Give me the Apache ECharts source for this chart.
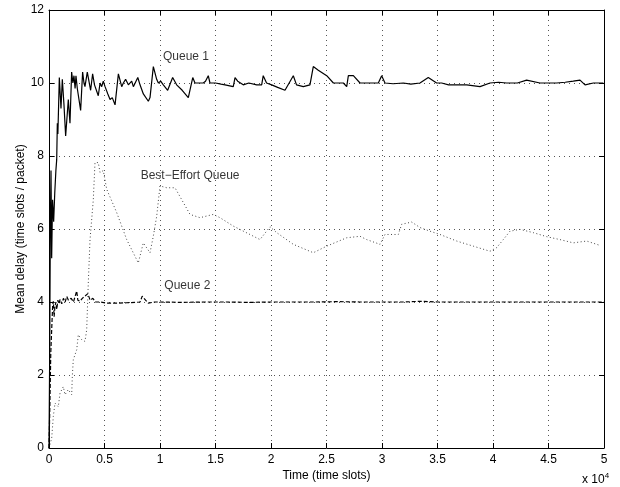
<!DOCTYPE html>
<html>
<head>
<meta charset="utf-8">
<script src="https://cdn.jsdelivr.net/npm/echarts@6/dist/echarts.min.js"></script>
<style>
  html, body { margin: 0; padding: 0; background: #fff; }
  #chart { width: 620px; height: 487px; }
</style>
</head>
<body>
<div id="chart"></div>
<script>
// Mean delay per queue over simulated time (time in slots, value in slots/packet)
const queue1 = [
  [0,0],[60,2.5],[120,6],[180,7.6],[240,5.2],[320,6.8],[420,6.2],[520,7.0],[620,7.6],[694,7.9],
  [750,8.9],[800,8.6],[850,9.2],[930,10.15],[1080,9.3],[1200,10.1],[1350,9.4],[1500,8.55],[1740,9.55],
  [1890,8.9],[2040,10.3],[2150,10.0],[2250,10.2],[2350,9.85],[2430,10.2],[2550,9.85],[2850,9.25],
  [3030,10.3],[3150,10.0],[3240,9.9],[3450,10.3],[3750,9.8],[3930,10.25],[4100,9.95],[4440,9.65],
  [4600,10.0],[4750,9.9],[4890,10.05],[5050,9.9],[5300,9.7],[5500,9.55],[5700,9.6],[5950,9.4],
  [6250,10.25],[6550,9.9],[6700,10.0],[6900,10.1],[7150,9.95],[7450,10.05],[7600,9.9],[8000,10.15],
  [8200,9.95],[8500,9.7],[8950,9.5],[9100,9.6],[9250,9.55],[9400,10.45],[9700,10.1],[9850,10.0],
  [10060,10.05],[10300,9.95],[10690,9.8],[11140,10.15],[11500,9.95],[12000,9.8],[12550,9.6],
  [12950,10.15],[13150,10.0],[13900,10.0],[14100,10.05],[14350,10.2],[14500,10.0],[15000,10.0],
  [15500,9.97],[15860,9.95],[16600,9.9],[16760,10.15],[17000,10.05],[17500,9.95],[18000,10.0],
  [18710,9.95],[19160,9.95],[19300,10.2],[19600,10.0],[20060,9.95],[20600,9.88],[21260,9.8],
  [22010,10.2],[22300,9.95],[22910,9.9],[23510,9.95],[23810,10.45],[24260,10.35],[25020,10.2],
  [25620,10.0],[26520,10.0],[26820,9.9],[26970,10.2],[27420,10.2],[28020,10.0],[28920,10.0],
  [29670,10.0],[29970,10.2],[30270,10.0],[31000,9.98],[31920,10.0],[32600,9.97],[33420,10.0],
  [34170,10.15],[34920,10.0],[35370,10.0],[36000,9.95],[36580,9.95],[37630,9.95],[38830,9.9],
  [39730,10.0],[40500,10.02],[41230,10.0],[42200,10.0],[43030,10.08],[44230,10.0],[45730,10.0],
  [46500,10.02],[47230,10.05],[47840,10.08],[48290,9.95],[49040,10.0],[49940,10.0],[50000,10.0]
];

const queue2 = [
  [0,0],[80,1.2],[160,2.6],[250,3.3],[330,3.9],[390,4.02],[460,3.6],[540,3.88],[620,4.0],[700,3.8],
  [800,4.05],[900,3.95],[1000,4.07],[1150,3.95],[1300,4.1],[1450,4.0],[1600,4.15],[1750,4.05],
  [2000,4.1],[2200,4.0],[2495,4.3],[2600,4.05],[2800,4.02],[3000,4.1],[3500,4.23],[3700,4.05],
  [3950,4.1],[4200,4.0],[4600,4.0],[5200,3.97],[6250,3.97],[7000,3.98],[7800,3.99],[8200,4.0],
  [8400,4.16],[8700,4.05],[8950,3.97],[9500,4.0],[10000,4.0],[12000,3.99],[14000,4.0],[16000,4.0],
  [18000,3.99],[20000,4.0],[22000,4.0],[24000,4.0],[26000,4.01],[28000,4.0],[30000,4.0],
  [32000,4.0],[33500,4.02],[35000,4.0],[38000,4.0],[40000,4.0],[42000,4.0],[44000,4.0],
  [46000,4.0],[48000,4.0],[50000,4.0]
];

const bestEffort = [
  [0,0],[243,0.27],[387,0.86],[541,1.23],[838,1.13],[991,1.5],[1288,1.68],[1441,1.46],[1739,1.6],
  [2045,1.46],[2100,1.96],[2189,2.42],[2495,2.69],[2640,3.1],[2946,2.97],[3243,2.92],[3396,3.24],
  [3540,4.52],[3694,5.7],[3991,6.8],[4144,7.82],[4441,7.82],[4595,7.55],[4892,7.6],[5198,7.09],
  [6099,6.45],[7000,5.71],[8045,5.07],[8495,5.62],[9099,5.35],[9396,5.8],[9703,6.35],[9999,7.18],
  [10604,7.13],[11351,7.13],[12703,6.4],[13604,6.31],[14802,6.4],[15405,6.31],[16604,6.08],
  [18105,5.85],[19009,5.71],[19910,6.06],[20514,5.9],[22009,5.58],[23811,5.35],[25018,5.53],
  [26820,5.76],[28022,5.8],[28621,5.71],[29820,5.58],[30270,5.85],[31468,5.85],[31774,6.13],
  [32676,6.19],[33424,6.04],[34324,5.94],[35225,5.85],[36729,5.67],[38225,5.53],[39730,5.39],
  [40333,5.49],[40927,5.71],[41532,5.94],[42433,5.99],[43630,5.9],[44837,5.79],[46030,5.71],
  [47234,5.62],[48442,5.67],[49640,5.55]
];

// Curve annotations and the data point each one is anchored at
const curveNames = ['Queue 1', 'Best\u2212Effort Queue', 'Queue 2'];
const curveNameAnchors = [[10270, 10.71], [8260, 7.45], [10390, 4.45]];

const xTicks = { min: 0, max: 50000, interval: 5000 };
const yTicks = { min: 0, max: 12, interval: 2 };

const FONT = 'Liberation Sans';
const FS = 12;
const chart = echarts.init(document.getElementById('chart'), null, { renderer: 'canvas' });

const gridDots = { show: true, lineStyle: { color: '#555', type: [1, 4], width: 1 } };
const inTick = { show: true, inside: true, length: 5, lineStyle: { color: '#000', width: 1 } };

chart.setOption({
  animation: false,
  backgroundColor: '#fff',
  textStyle: { fontFamily: FONT },
  title: {
    text: '{a|x 10}{b|4}',
    left: 577, top: 467,
    textStyle: {
      fontWeight: 'normal',
      rich: {
        a: { fontFamily: FONT, fontSize: FS, fontWeight: 'normal', color: '#000', verticalAlign: 'bottom', lineHeight: 14 },
        b: { fontFamily: FONT, fontSize: 8, fontWeight: 'normal', color: '#000', verticalAlign: 'top', lineHeight: 14, padding: [0, 0, 6, 0] }
      }
    }
  },
  grid: { left: 49, right: 16, top: 10, bottom: 39, containLabel: false },
  xAxis: [
    {
      type: 'value', position: 'bottom', ...xTicks,
      axisLine: { show: true, onZero: false, lineStyle: { color: '#000', width: 1 } },
      axisTick: inTick,
      splitLine: gridDots,
      axisLabel: { color: '#000', fontSize: FS, fontFamily: FONT, margin: 6, formatter: v => String(v / 10000) },
      name: 'Time (time slots)', nameLocation: 'middle', nameGap: 22, nameMoveOverlap: false,
      nameTextStyle: { color: '#000', fontSize: FS, fontFamily: FONT }
    },
    {
      type: 'value', position: 'top', ...xTicks,
      axisLine: { show: true, onZero: false, lineStyle: { color: '#000', width: 1 } },
      axisTick: inTick, axisLabel: { show: false }, splitLine: { show: false }
    }
  ],
  yAxis: [
    {
      type: 'value', position: 'left', ...yTicks,
      axisLine: { show: true, onZero: false, lineStyle: { color: '#000', width: 1 } },
      axisTick: inTick,
      splitLine: gridDots,
      axisLabel: { color: '#000', fontSize: FS, fontFamily: FONT, margin: 5 },
      name: 'Mean delay (time slots / packet)', nameLocation: 'middle', nameGap: 22, nameMoveOverlap: false,
      nameTextStyle: { color: '#000', fontSize: FS, fontFamily: FONT }
    },
    {
      type: 'value', position: 'right', ...yTicks,
      axisLine: { show: true, onZero: false, lineStyle: { color: '#000', width: 1 } },
      axisTick: inTick, axisLabel: { show: false }, splitLine: { show: false }
    }
  ],
  series: [
    {
      name: curveNames[1], type: 'line', data: bestEffort, showSymbol: false,
      lineStyle: { color: '#444', width: 1, type: [1, 2.5] }, z: 2
    },
    {
      name: curveNames[2], type: 'line', data: queue2, showSymbol: false,
      lineStyle: { color: '#000', width: 1.2, type: [4, 2] }, z: 3
    },
    {
      name: curveNames[0], type: 'line', data: queue1, showSymbol: false,
      lineStyle: { color: '#000', width: 1.2 }, z: 4
    },
    {
      type: 'scatter', symbolSize: 0, silent: true, z: 5,
      data: curveNames.map((n, i) => ({ value: curveNameAnchors[i], name: n })),
      label: {
        show: true, position: 'right', distance: 0, formatter: p => p.name,
        color: '#000', fontSize: FS, fontFamily: FONT
      }
    }
  ]
});
</script>
</body>
</html>
